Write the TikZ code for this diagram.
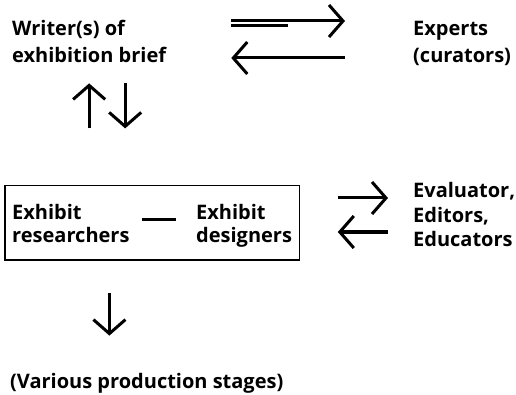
\documentclass[tikz,border=0pt]{standalone}
\usepackage{fontspec}
\setmainfont{Open Sans}
\usetikzlibrary{arrows.meta,positioning,calc,fit}

\tikzset{
  label/.style={font=\fontsize{20}{27}\selectfont\bfseries,align=left,inner sep=0pt,anchor=base west},
  arr/.style={line width=3pt,-{Straight Barb[length=14pt,width=32pt,line width=3pt]}},
}

\begin{document}
\begin{tikzpicture}[x=1pt,y=-1pt]
\useasboundingbox (0,0) rectangle (516,395);
% texts (anchored at the baseline of the last line)
\node[label] (writer) at (12,63) {Writer(s) of\\exhibition brief};
\node[label] (experts) at (413,63) {Experts\\(curators)};
\node[label,font=\fontsize{20}{24}\selectfont\bfseries] (research) at (12,243) {Exhibit\\researchers};
\node[label,font=\fontsize{20}{24}\selectfont\bfseries] (designers) at (196,243) {Exhibit\\designers};
\node[label,font=\fontsize{20}{24}\selectfont\bfseries] (evals) at (413,246) {Evaluator,\\Editors,\\Educators};
\node[label] (stages) at (10,388) {(Various production stages)};
% frame round the team
\node[draw,line width=1.2pt,inner xsep=7pt,inner ysep=12pt,fit={([yshift=6pt]research.north west)(designers.south east)}] (team) {};
% arrows
\draw[arr,shorten <=65pt,shorten >=68pt] ([yshift=42pt]writer.base east) -- ([yshift=42pt]writer.base east -| experts.west);
\draw[line width=3pt,shorten <=65pt] ([yshift=37pt]writer.base east) -- ++(122pt,0);
\draw[arr,shorten <=68pt,shorten >=65pt] ([yshift=5pt]experts.base west) -- ([yshift=5pt]experts.base west -| writer.east);
\draw[arr] ([yshift=-65pt]writer.south) -- ([yshift=-20pt]writer.south);
\draw[arr] ([xshift=36pt,yshift=-20pt]writer.south) -- ([xshift=36pt,yshift=-65pt]writer.south);
\draw[line width=3pt] ([xshift=12pt,yshift=23pt]research.base east) -- ([xshift=-20pt,yshift=23pt]designers.base west);
\draw[arr,shorten <=38pt,shorten >=25pt] ([yshift=48pt]evals.base west -| team.east) -- ([yshift=48pt]evals.base west);
\draw[arr,shorten <=25pt,shorten >=38pt] ([yshift=14pt]evals.base west) -- ([yshift=14pt]evals.base west -| team.east);
\draw[arr,shorten <=32pt,shorten >=37pt] ([xshift=105pt]team.south west) -- ([xshift=105pt]team.south west |- stages.north);
\end{tikzpicture}
\end{document}
